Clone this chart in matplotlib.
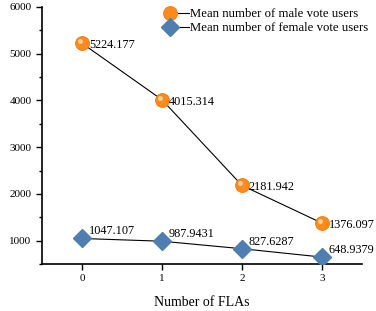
import matplotlib
matplotlib.use("Agg")
import matplotlib.pyplot as plt
from matplotlib.ticker import MultipleLocator
from matplotlib.transforms import offset_copy
from matplotlib.legend_handler import HandlerLine2DCompound

plt.rcParams['font.family'] = ['Liberation Serif', 'DejaVu Serif']

x_vals = [0, 1, 2, 3]
male = [5224.177, 4015.314, 2181.942, 1376.097]
female = [1047.107, 987.9431, 827.6287, 648.9379]
male_labels = ["5224.177", "4015.314", "2181.942", "1376.097"]
female_labels = ["1047.107", "987.9431", "827.6287", "648.9379"]
male_name = "Mean number of male vote users"
female_name = "Mean number of female vote users"


class MarkerFirst(HandlerLine2DCompound):
    def create_artists(self, legend, orig_handle, xdescent, ydescent,
                       width, height, fontsize, trans):
        arts = super().create_artists(legend, orig_handle, xdescent, ydescent,
                                      width, height, fontsize, trans)
        line, mk = arts
        x0 = -xdescent
        mk.set_xdata([x0 + 0.22 * width])
        line.set_xdata([x0 + 0.58 * width, x0 + width])
        return arts


fig = plt.figure(figsize=(3.76, 3.11), dpi=100)
ax = fig.add_axes([0.1117, 0.151, 0.851, 0.8265])

h1, = ax.plot(x_vals, male, color='black', lw=0.8, marker='o', ms=10,
              mfc='#ff8a1c', mec='#f07a10', mew=0.6, label=male_name, zorder=3)
hl = offset_copy(ax.transData, fig=fig, x=-1.6, y=1.6, units='points')
ax.plot(x_vals, male, ls='none', marker='o', ms=3.5, mfc='#ffd2a0', mec='none',
        zorder=4, transform=hl)
h2, = ax.plot(x_vals, female, color='black', lw=0.8, marker='D', ms=9.5,
              mfc='#4f7fb0', mec='#4f7fb0', label=female_name, zorder=3)

for xv, yv, s in zip(x_vals, male, male_labels):
    ax.annotate(s, (xv, yv), xytext=(5, -3.5), textcoords='offset points', fontsize=8.8)
for xv, yv, s in zip(x_vals, female, female_labels):
    ax.annotate(s, (xv, yv), xytext=(5, 3), textcoords='offset points', fontsize=8.8)

ax.set_xlim(-0.5, 3.5)
ax.set_ylim(500, 6000)
ax.set_xticks(x_vals)
ax.yaxis.set_major_locator(MultipleLocator(1000))
ax.yaxis.set_minor_locator(MultipleLocator(500))
ax.tick_params(axis='both', labelsize=8, direction='out', length=4, width=1)
ax.tick_params(axis='y', which='minor', length=2.5, width=1)
for s in ['top', 'right']:
    ax.spines[s].set_visible(False)
for s in ['left', 'bottom']:
    ax.spines[s].set_linewidth(1.2)

ax.set_xlabel("Number of FLAs", fontsize=10, labelpad=9)

ax.legend(handles=[h1, h2], loc='upper right', bbox_to_anchor=(1.045, 1.025),
          frameon=False, fontsize=9.2, handlelength=1.9, handletextpad=0.15,
          labelspacing=0.15, borderaxespad=0.2,
          handler_map={h1: MarkerFirst(), h2: MarkerFirst()})

fig.savefig("out.png", dpi=100)
